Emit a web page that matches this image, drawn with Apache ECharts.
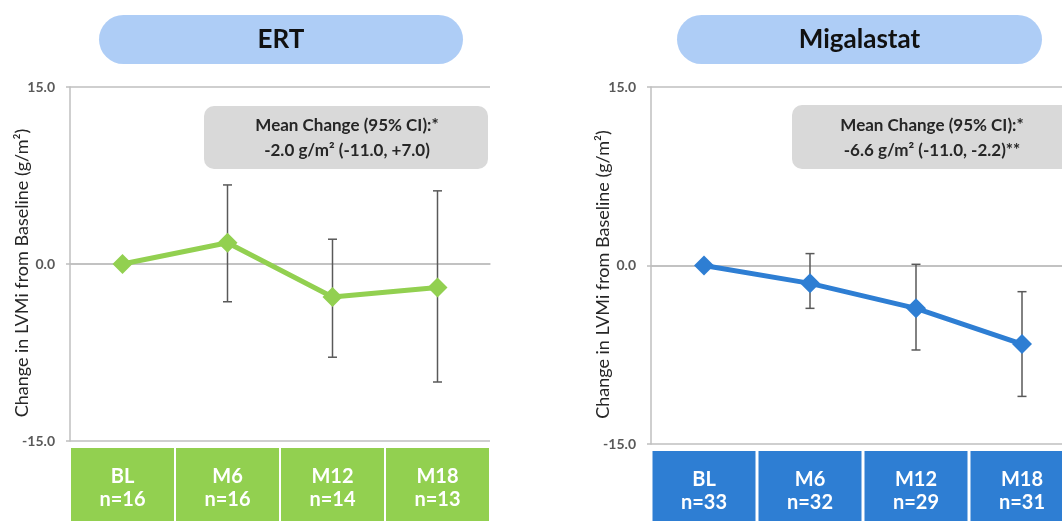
<!DOCTYPE html>
<html>
<head>
<meta charset="utf-8">
<script src="https://cdn.jsdelivr.net/npm/echarts@6/dist/echarts.min.js"></script>
<style>
  html, body { margin: 0; padding: 0; background: #fff; }
  #main { width: 1062px; height: 521px; }
</style>
</head>
<body>
<div id="main"></div>
<script>
// 数据
var categories = ['BL', 'M6', 'M12', 'M18'];
var ertN = [16, 16, 14, 13];
var migN = [33, 32, 29, 31];
var ertMean = [0, 1.8, -2.8, -2.0];
var ertLow = [null, -3.2, -7.9, -10.0];
var ertHigh = [null, 6.7, 2.1, 6.2];
var migMean = [0, -1.5, -3.6, -6.6];
var migLow = [null, -3.6, -7.1, -11.0];
var migHigh = [null, 1.0, 0.1, -2.2];

var FONT = 'Lato, "Noto Sans", sans-serif';
var green = '#92d050';
var blue = '#2e7ed3';
var grey = '#bfbfbf';

function errData(low, high) {
  var out = [];
  for (var i = 0; i < categories.length; i++) {
    if (low[i] != null) out.push([i, low[i], high[i]]);
  }
  return out;
}

function renderErr(params, api) {
  var x = api.value(0);
  var top = api.coord([x, api.value(2)]);
  var bot = api.coord([x, api.value(1)]);
  var st = { stroke: '#595959', lineWidth: 1.5 };
  var c = 4.5;
  return {
    type: 'group',
    children: [
      { type: 'line', shape: { x1: top[0], y1: top[1], x2: bot[0], y2: bot[1] }, style: st },
      { type: 'line', shape: { x1: top[0] - c, y1: top[1], x2: top[0] + c, y2: top[1] }, style: st },
      { type: 'line', shape: { x1: bot[0] - c, y1: bot[1], x2: bot[0] + c, y2: bot[1] }, style: st }
    ]
  };
}

function xAxisFor(gridIndex, nList, color) {
  return {
    type: 'category',
    gridIndex: gridIndex,
    data: categories,
    boundaryGap: true,
    axisLine: { show: true, lineStyle: { color: grey, width: 1.5 } },
    axisTick: { show: false },
    axisLabel: {
      interval: 0,
      margin: 7,
      formatter: function (v, i) { return v + '\nn=' + nList[i]; },
      color: '#fff',
      fontFamily: FONT,
      fontWeight: 'bold',
      fontSize: 20,
      lineHeight: 23,
      backgroundColor: color,
      width: 103,
      align: 'center',
      padding: [17, 0, 40, 0]
    }
  };
}

function yAxisFor(gridIndex) {
  return {
    type: 'value',
    gridIndex: gridIndex,
    min: -15,
    max: 15,
    interval: 15,
    axisLine: { show: true, lineStyle: { color: grey, width: 1.5 } },
    axisTick: { show: true, inside: false, length: 4, lineStyle: { color: grey, width: 1.5 } },
    splitLine: { show: true, lineStyle: { color: grey, width: 1.5 } },
    axisLabel: {
      margin: 15,
      color: '#595959',
      fontFamily: FONT,
      fontWeight: 'bold',
      fontSize: 14,
      formatter: function (v) { return v.toFixed(1); }
    },
    name: 'Change in LVMi from Baseline (g/m²)',
    nameLocation: 'middle',
    nameRotate: 90,
    nameGap: 39,
    nameMoveOverlap: false,
    nameTextStyle: { color: '#262626', fontFamily: FONT, fontSize: 18, padding: [0, 18, 0, 0] }
  };
}

function pill(x, y, w, h, text) {
  return {
    type: 'group',
    left: x, top: y,
    children: [
      { type: 'rect', shape: { x: 0, y: 0, width: w, height: h, r: h / 2 }, style: { fill: '#aecdf6' } },
      { type: 'text', x: w / 2, y: h / 2, style: { text: text, fill: '#111', font: 'bold 26px ' + FONT, align: 'center', verticalAlign: 'middle' } }
    ]
  };
}

function note(x, y, w, h, cx, text) {
  return {
    type: 'group',
    left: x, top: y,
    z: 5,
    children: [
      { type: 'rect', shape: { x: 0, y: 0, width: w, height: h, r: 10 }, style: { fill: '#d9d9d9' } },
      { type: 'text', x: cx, y: h / 2 + 1, style: { text: text, fill: '#262626', font: 'bold 17px ' + FONT, align: 'center', verticalAlign: 'middle', lineHeight: 25 } }
    ]
  };
}

var myChart = echarts.init(document.getElementById('main'));
var option = {
  backgroundColor: '#fff',
  animation: false,
  grid: [
    { left: 70, top: 87, width: 420, height: 354, outerBoundsMode: 'none', containLabel: false },
    { left: 651, top: 87, width: 424, height: 357, outerBoundsMode: 'none', containLabel: false }
  ],
  xAxis: [xAxisFor(0, ertN, green), xAxisFor(1, migN, blue)],
  yAxis: [yAxisFor(0), yAxisFor(1)],
  graphic: [
    pill(99, 15, 364, 49, 'ERT'),
    pill(677, 15, 365, 49, 'Migalastat'),
    note(204, 106, 284, 63, 143, 'Mean Change (95% CI):*\n-2.0 g/m² (-11.0, +7.0)'),
    note(792, 105, 290, 64, 140, 'Mean Change (95% CI):*\n-6.6 g/m² (-11.0, -2.2)**')
  ],
  series: [
    {
      type: 'custom', xAxisIndex: 0, yAxisIndex: 0, z: 2,
      renderItem: renderErr, data: errData(ertLow, ertHigh)
    },
    {
      type: 'line', xAxisIndex: 0, yAxisIndex: 0, z: 3,
      data: ertMean,
      lineStyle: { color: green, width: 5 },
      itemStyle: { color: green },
      symbol: 'diamond', symbolSize: 20
    },
    {
      type: 'custom', xAxisIndex: 1, yAxisIndex: 1, z: 2,
      renderItem: renderErr, data: errData(migLow, migHigh)
    },
    {
      type: 'line', xAxisIndex: 1, yAxisIndex: 1, z: 3,
      data: migMean,
      lineStyle: { color: blue, width: 5 },
      itemStyle: { color: blue },
      symbol: 'diamond', symbolSize: 20
    }
  ]
};
option && myChart.setOption(option);
</script>
</body>
</html>
